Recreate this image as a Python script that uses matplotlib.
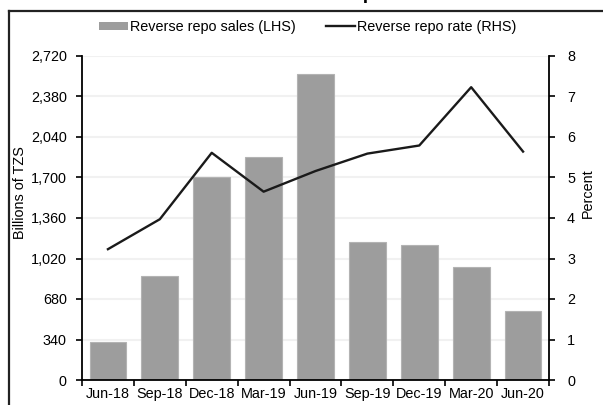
import matplotlib
matplotlib.use("Agg")
import matplotlib.pyplot as plt
from matplotlib.lines import Line2D
from matplotlib.patches import Patch

plt.rcParams["font.family"] = ["Liberation Sans", "DejaVu Sans"]

quarters = ["Jun-18", "Sep-18", "Dec-18", "Mar-19", "Jun-19",
            "Sep-19", "Dec-19", "Mar-20", "Jun-20"]
repo_sales = [323, 870, 1708, 1871, 2570, 1162, 1131, 945, 580]
repo_rate = [3.23, 3.97, 5.61, 4.65, 5.16, 5.59, 5.79, 7.23, 5.64]
left_ticks = [0, 340, 680, 1020, 1360, 1700, 2040, 2380, 2720]
right_ticks = [0, 1, 2, 3, 4, 5, 6, 7, 8]

W, H = 603, 405
fig = plt.figure(figsize=(W / 100, H / 100), dpi=100)
ax = fig.add_axes([82 / W, 1 - 380 / H, (549 - 82) / W, (380 - 56) / H])

fs = 10.4
x = list(range(len(quarters)))
ax.bar(x, repo_sales, width=0.71, color="#9d9d9d", edgecolor="#b3b3b3",
       linewidth=0.8, zorder=2)
ax.set_xlim(-0.5, len(quarters) - 0.5)
ax.set_ylim(0, 2720)
ax.set_yticks(left_ticks)
ax.set_yticklabels([f"{v:,}" for v in left_ticks], fontsize=fs)
ax.yaxis.grid(True, color="#f1f1f1", linewidth=1.5, zorder=0)
ax.set_axisbelow(True)

ax.set_xticks([i - 0.5 for i in range(len(quarters) + 1)])
ax.set_xticklabels([])
ax.set_xticks(x, minor=True)
ax.set_xticklabels(quarters, minor=True, fontsize=fs)
ax.tick_params(axis="x", which="minor", length=0, pad=5)
ax.tick_params(axis="x", which="major", length=4, width=1.2, direction="out")
ax.tick_params(axis="y", length=4, width=1.2, direction="out", pad=7)

for side in ["top", "right"]:
    ax.spines[side].set_visible(False)
for side in ["left", "bottom"]:
    ax.spines[side].set_linewidth(1.3)

ax2 = ax.twinx()
ax2.plot(x, repo_rate, color="#1a1a1a", linewidth=1.7, zorder=3)
ax2.set_ylim(0, 8)
ax2.set_yticks(right_ticks)
ax2.set_yticklabels([str(v) for v in right_ticks], fontsize=fs)
ax2.tick_params(axis="y", length=4, width=1.2, direction="out", pad=9)
for side in ["top", "left", "bottom"]:
    ax2.spines[side].set_visible(False)
ax2.spines["right"].set_linewidth(1.3)

fig.text(20 / W, 1 - 193 / H, "Billions of TZS", rotation=90,
         ha="center", va="center", fontsize=fs)
fig.text(588 / W, 1 - 193 / H, "Percent", rotation=90,
         ha="center", va="center", fontsize=fs)

handles = [Patch(facecolor="#9d9d9d", edgecolor="none"),
           Line2D([0], [0], color="#1a1a1a", linewidth=1.7)]
fig.legend(handles, ["Reverse repo sales (LHS)", "Reverse repo rate (RHS)"],
           loc="center", bbox_to_anchor=(308 / W, 1 - 27 / H), ncol=2,
           frameon=False, fontsize=fs, handlelength=2.0, handleheight=0.55,
           handletextpad=0.15, columnspacing=2.1, borderaxespad=0)

# frame around the figure and the clipped title above it
fig.add_artist(Line2D([9 / W, 9 / W], [0, 1 - 11 / H], color="#222222",
                      linewidth=1.6, transform=fig.transFigure))
fig.add_artist(Line2D([9 / W, 1], [1 - 11 / H, 1 - 11 / H], color="#222222",
                      linewidth=1.6, transform=fig.transFigure))
fig.text(257 / W, 1 + 1 / H, "Reverse Repo", fontsize=14, weight="bold",
         ha="left", va="baseline")

fig.savefig("out.png", dpi=100)
